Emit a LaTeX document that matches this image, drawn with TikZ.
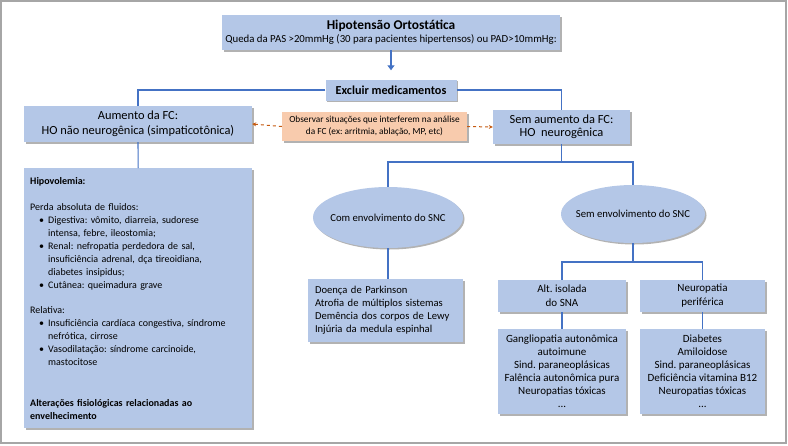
\documentclass[tikz,border=0pt]{standalone}
\usepackage{fontspec}
\setmainfont{Carlito}
\usetikzlibrary{shapes.geometric,shadows,arrows.meta,calc}
\definecolor{boxblue}{HTML}{B4C7E7}
\definecolor{lineblue}{HTML}{4472C4}
\definecolor{peach}{HTML}{F8CBAD}
\definecolor{darkorange}{HTML}{C55A11}
\definecolor{framegray}{HTML}{A6A6A6}
\newcommand{\bul}[1]{\mbox{\hspace*{9pt}\makebox[9pt][l]{•}#1}}
\newcommand{\ind}[1]{\mbox{\hspace*{18pt}#1}}
\frenchspacing
\begin{document}
\begin{tikzpicture}[x=1pt,y=-1pt,
  box/.style={fill=boxblue, draw=none, inner sep=0pt, align=center,
    drop shadow={shadow xshift=1.5pt, shadow yshift=-1.5pt, fill=black, opacity=0.3}},
  ell/.style={box, ellipse},
  conn/.style={draw=lineblue, line width=1.1pt},
  darr/.style={draw=darkorange, dashed, line width=1pt, -{Stealth[length=4pt,width=4pt]}}]
\useasboundingbox (0,0) rectangle (788,445);
\draw[framegray, line width=1.5pt] (0.8,0.8) rectangle (786,443);

\node[box, minimum width=338pt, minimum height=35pt, font=\fontsize{10.8}{13}\selectfont] (top) at (391,32.5)
  {{\fontsize{13.4}{13}\selectfont\bfseries Hipotensão Ortostática}\\Queda da PAS >20mmHg (30 para pacientes hipertensos) ou PAD>10mmHg:};
\node[box, minimum width=131pt, minimum height=21pt, font=\bfseries\fontsize{12.2}{13}\selectfont] (excl) at (391,90) {Excluir medicamentos};
\node[box, minimum width=228pt, minimum height=36pt, font=\fontsize{12.4}{15}\selectfont] (aum) at (138,124)
  {Aumento da FC:\\HO não neurogênica (simpaticotônica)};
\node[box, fill=peach, minimum width=185pt, minimum height=29pt, font=\fontsize{9.3}{12}\selectfont] (obs) at (374.5,126.5)
  {Observar situações que interferem na análise\\da FC (ex: arritmia, ablação, MP, etc)};
\node[box, minimum width=137pt, minimum height=34pt, font=\fontsize{12.4}{13}\selectfont] (sem) at (561.5,127)
  {Sem aumento da FC:\\HO\ \ neurogênica};

\node[box, anchor=north west, minimum width=228pt, minimum height=260pt, text width=216pt, align=left,
  font=\fontsize{10}{13}\selectfont] (hipo) at (24,168)
  {\textbf{Hipovolemia:}\\[13pt]
   Perda absoluta de fluidos:\\
   \bul{Digestiva: vômito, diarreia, sudorese}\\
   \ind{intensa, febre, ileostomia;}\\
   \bul{Renal: nefropatia perdedora de sal,}\\
   \ind{insuficiência adrenal, dça tireoidiana,}\\
   \ind{diabetes insipidus;}\\
   \bul{Cutânea: queimadura grave}\\[12pt]
   Relativa:\\
   \bul{Insuficiência cardíaca congestiva, síndrome}\\
   \ind{nefrótica, cirrose}\\
   \bul{Vasodilatação: síndrome carcinoide,}\\
   \ind{mastocitose}\\[28pt]
   \textbf{Alterações fisiológicas relacionadas ao}\\
   \textbf{envelhecimento}};

\node[ell, minimum width=150pt, minimum height=61pt, font=\fontsize{10.7}{13}\selectfont] (ell1) at (388,217.5) {\makebox[0pt]{Com envolvimento do SNC}};
\node[ell, minimum width=144pt, minimum height=58pt, font=\fontsize{10.7}{13}\selectfont] (ell2) at (633,214) {\makebox[0pt]{Sem envolvimento do SNC}};

\node[box, minimum width=155pt, minimum height=63pt, text width=141pt, align=left, font=\fontsize{10.6}{13}\selectfont] (park) at (385.5,310.5)
  {\mbox{Doença de Parkinson}\\\mbox{Atrofia de múltiplos sistemas}\\\mbox{Demência dos corpos de Lewy}\\\mbox{Injúria da medula espinhal}};

\node[box, minimum width=128pt, minimum height=32pt, font=\fontsize{11}{14}\selectfont] (alt) at (562,296) {Alt. isolada\\do SNA};
\node[box, minimum width=125pt, minimum height=32pt, font=\fontsize{11}{14}\selectfont] (neu) at (702.5,296) {Neuropatia\\periférica};
\node[box, minimum width=128pt, minimum height=85pt, font=\fontsize{11}{13}\selectfont] (gang) at (562,371.5)
  {Gangliopatia autonômica\\autoimune\\Sind. paraneoplásicas\\Falência autonômica pura\\Neuropatias tóxicas\\...};
\node[box, minimum width=125pt, minimum height=85pt, font=\fontsize{11}{13}\selectfont] (diab) at (702.5,371.5)
  {Diabetes\\Amiloidose\\Sind. paraneoplásicas\\Deficiência vitamina B12\\Neuropatias tóxicas\\...};

% connectors
\coordinate (arrend) at ($(excl.north)+(0,-9)$);
\draw[lineblue, line width=2.2pt, -{Triangle[length=5pt,width=7pt]}] (top.south) -- (arrend);
\draw[conn] (excl.west) -| (aum.north);
\draw[conn] (excl.east) -| (sem.north);
\draw[conn] (aum.south) -- (hipo.north);
\draw[darr] (obs.west) -- (aum.east);
\draw[darr] (obs.east) -- (sem.west);
\coordinate (semj) at (561.5,162);
\draw[conn] (sem.south) -- (semj) -| (ell1.north);
\draw[conn] (semj) -| (ell2.north);
\draw[conn] (ell1.south) -- (ell1.south |- park.north);
\coordinate (ellj) at (633,262);
\draw[conn] (ell2.south) -- (ellj) -| (alt.north);
\draw[conn] (ellj) -| (neu.north);
\draw[conn] (alt.south) -- (gang.north);
\draw[conn] (neu.south) -- (diab.north);
\end{tikzpicture}
\end{document}
